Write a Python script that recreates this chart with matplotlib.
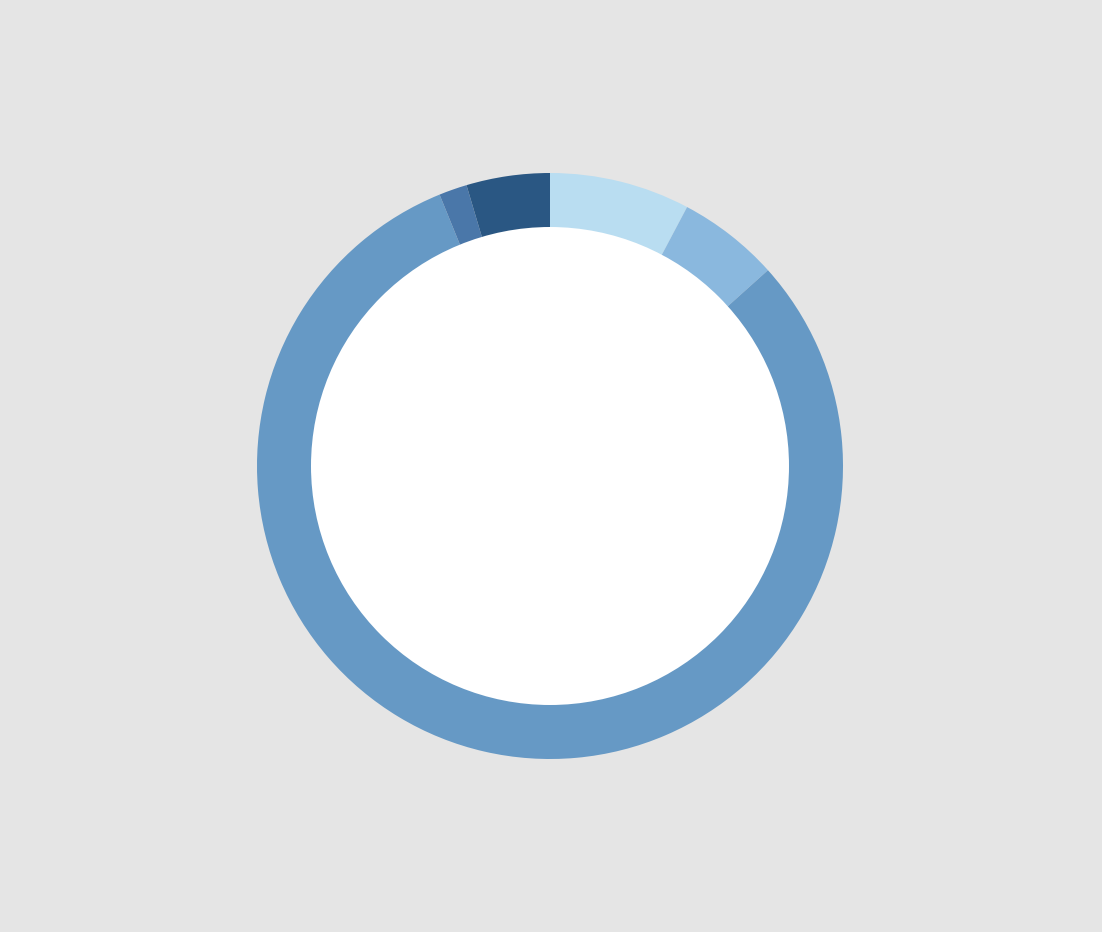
import matplotlib
matplotlib.use("Agg")
import matplotlib.pyplot as plt
from matplotlib.patches import Circle

# Slice shares (percent), clockwise from 12 o'clock
categories = ["A", "B", "C", "D", "E"]
values = [7.75, 5.6, 80.5, 1.55, 4.6]
colors = ["#b9ddf1", "#8ab8de", "#6699c5", "#4a77a9", "#2a5783"]

W, H = 1102, 932
fig = plt.figure(figsize=(W / 100, H / 100), dpi=100, facecolor="#e5e5e5")
ax = fig.add_axes([0, 0, 1, 1])
ax.set_facecolor("#e5e5e5")
ax.set_xlim(0, W)
ax.set_ylim(0, H)
ax.set_aspect("equal")
ax.axis("off")

cx, cy = 550, H - 466
ax.pie(values, colors=colors, startangle=90, counterclock=False,
       radius=293, center=(cx, cy), frame=True,
       wedgeprops=dict(linewidth=0))
ax.add_patch(Circle((cx, cy), 239, facecolor="white", edgecolor="none", zorder=5))
ax.set_xlim(0, W)
ax.set_ylim(0, H)
ax.axis("off")

fig.savefig("out.png", dpi=100, facecolor="#e5e5e5")
